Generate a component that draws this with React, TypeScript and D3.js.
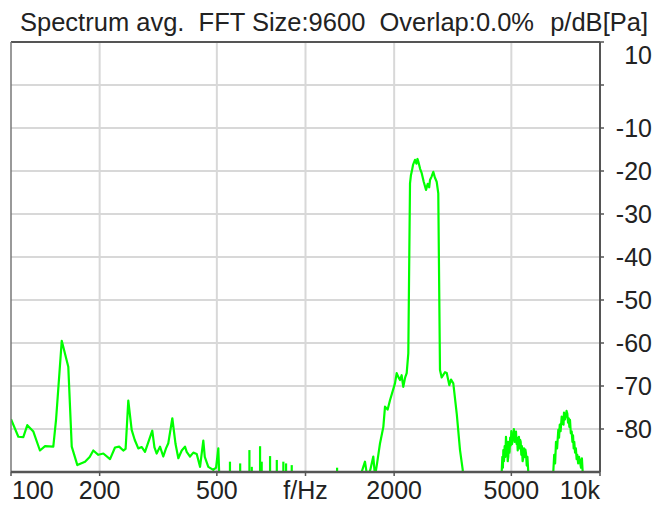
import React from 'react';
import * as d3 from 'd3';

// spectrum pieces (Hz, dB)
const lowFreq = [100, 105.9, 110.1, 113.6, 119.1, 125.4, 130.5, 139.2, 142.2, 148.7, 156.5, 160.8, 168, 178.4, 185, 190.3, 197.9, 205.8, 216.9, 225.5, 233, 240.6, 245, 250.2, 256.9, 263, 270.5, 278, 285.1, 301.8, 307, 312.4, 320.6, 328.9, 336, 342.1, 353, 362, 370, 380, 389.8, 395, 405.4, 416, 427.2, 438.4, 449.8, 455, 467.7, 486.3, 497, 505.8, 512];
const lowLevel = [-77.7, -81.8, -81.9, -79.1, -80.6, -85, -84, -84.1, -77.9, -59.5, -65.5, -84.1, -88.4, -87.6, -86.5, -85, -86, -85.7, -87, -84.3, -84.1, -85, -84.6, -73.4, -80.2, -82.5, -84.5, -84.2, -85.3, -80.4, -84.3, -85.7, -84.1, -86.4, -84.5, -83.3, -77.5, -83.5, -86.8, -85, -84.1, -85.3, -86.4, -85.5, -85.8, -88.8, -82.7, -86.5, -88.8, -89.5, -89, -84.5, -95];

const bandFreq = [1540, 1551, 1592, 1620, 1660, 1699, 1722, 1750, 1791, 1838, 1862, 1900, 1936, 2013, 2040, 2070, 2094, 2120, 2148, 2180, 2206, 2234, 2264, 2280, 2294, 2320, 2354, 2380, 2400, 2416, 2450, 2481, 2520, 2566, 2600, 2630, 2647, 2680, 2716, 2750, 2789, 2824, 2862, 2900, 2937, 2975, 3017, 3078, 3120, 3176, 3262, 3347, 3419, 3440];
const bandLevel = [-95, -90, -87.6, -91, -89.5, -86.4, -91, -88, -83.3, -79.5, -74.8, -75.5, -73.3, -69.4, -67, -68, -68.6, -67.5, -70.2, -68, -67, -62.4, -22.9, -21, -20.2, -18.5, -17.4, -18.3, -17.2, -17.8, -19.5, -20.5, -22.5, -24.4, -23, -23.8, -22.1, -21.3, -20.2, -21.5, -22.5, -25.2, -66.3, -68, -67.4, -66.8, -67, -69.8, -68.5, -69.4, -76.4, -84.9, -89.5, -95];

const hf1Freq = [4600, 4637, 4660, 4680, 4696, 4720, 4745, 4770, 4795, 4815, 4840, 4860, 4883, 4905, 4930, 4955, 4976, 5000, 5030, 5055, 5077, 5100, 5130, 5160, 5185, 5210, 5230, 5255, 5279, 5305, 5330, 5355, 5379, 5405, 5430, 5460, 5489, 5520, 5550, 5580, 5606, 5640, 5670, 5707, 5730];
const hf1Level = [-95, -90, -86.5, -89, -84.9, -87.5, -84, -86.5, -81.8, -85, -83, -87.5, -86.4, -83, -85.5, -82, -83.8, -80.5, -83.5, -81, -82.5, -80, -83, -81.5, -80.6, -83.5, -82, -85, -83.7, -81.8, -84.5, -82.5, -83, -86, -84, -87.5, -86.8, -84.5, -86.5, -84.8, -85.7, -88.5, -86.5, -90, -95];

const hf2Freq = [6900, 6940, 6990, 7040, 7089, 7150, 7218, 7260, 7300, 7350, 7412, 7450, 7480, 7520, 7547, 7600, 7650, 7700, 7745, 7790, 7830, 7870, 7909, 7960, 8015, 8060, 8100, 8140, 8178, 8230, 8280, 8330, 8373, 8430, 8490, 8552, 8620, 8680, 8734, 8760];
const hf2Level = [-95, -90, -86, -88, -83, -84.5, -80.2, -82, -79, -80.5, -77.1, -78.8, -77.5, -79, -76.2, -77.8, -77, -75.8, -76.4, -78.5, -77.5, -79.5, -77.9, -81, -80.6, -83, -81.5, -84.5, -83, -85.5, -84.5, -87, -86, -88, -86.5, -87.6, -89, -86.8, -90, -95];

// isolated lines poking up from the floor
const spikeFreq = [554, 600, 645, 657, 701, 710, 758, 799, 841, 859, 898, 1280];
const spikeLevel = [-87.6, -88, -84.9, -88.8, -84, -87.6, -86.3, -87.2, -87.6, -88, -88.4, -89];

const xTicks = [100, 200, 500, 1000, 2000, 5000, 10000];
const xLabels = ['100', '200', '500', 'f/Hz', '2000', '5000', '10k'];
const yTicks = [10, 0, -10, -20, -30, -40, -50, -60, -70, -80];
const yLabels = ['10', '', '-10', '-20', '-30', '-40', '-50', '-60', '-70', '-80'];

const W = 656;
const H = 507;
const left = 11, right = 600, top = 42, bottom = 472;
const font = '"Liberation Sans", Arial, sans-serif';

export default function App() {
  const x = d3.scaleLog().domain([100, 10000]).range([left, right]);
  const y = d3.scaleLinear().domain([-90, 10]).range([bottom, top]);

  const line = d3.line<[number, number]>()
    .x(d => x(d[0]))
    .y(d => y(d[1]));

  const segments = [
    d3.zip(lowFreq, lowLevel),
    d3.zip(bandFreq, bandLevel),
    d3.zip(hf1Freq, hf1Level),
    d3.zip(hf2Freq, hf2Level),
  ] as [number, number][][];

  return (
    <svg width={W} height={H} style={{ position: 'absolute', left: 0, top: 0, background: '#fff' }}
      fontFamily={font}>
      <defs>
        <clipPath id="plot">
          <rect x={left} y={top} width={right - left} height={bottom - top} />
        </clipPath>
      </defs>

      {/* grid */}
      {yTicks.filter(t => t < 10).map(t => (
        <line key={'gy' + t} x1={left} x2={right} y1={y(t)} y2={y(t)} stroke="#d8d8d8" strokeWidth={2} />
      ))}
      {xTicks.slice(1, -1).map(t => (
        <line key={'gx' + t} x1={x(t)} x2={x(t)} y1={top} y2={bottom} stroke="#d8d8d8" strokeWidth={2} />
      ))}

      {/* trace */}
      <g clipPath="url(#plot)" fill="none" stroke="#00ff00" strokeWidth={2.2} strokeLinejoin="round">
        {segments.map((s, i) => <path key={i} d={line(s) || ''} />)}
        {spikeFreq.map((f, i) => (
          <line key={'s' + i} x1={x(f)} x2={x(f)} y1={y(-92)} y2={y(spikeLevel[i])} />
        ))}
      </g>

      {/* frame */}
      <line x1={left} x2={right} y1={top} y2={top} stroke="#555" strokeWidth={2} />
      <line x1={left} x2={left} y1={top} y2={bottom} stroke="#777" strokeWidth={1.5} />
      <line x1={right} x2={right} y1={top} y2={bottom} stroke="#555" strokeWidth={2} />
      <line x1={left} x2={right} y1={bottom} y2={bottom} stroke="#555" strokeWidth={2.5} />

      {/* x axis */}
      {xTicks.map((t, i) => (
        <g key={'xt' + t}>
          <line x1={x(t)} x2={x(t)} y1={bottom} y2={bottom + 4} stroke="#555" strokeWidth={1.5} />
          <text x={x(t) + (i === 0 ? 1 : 0)} y={499} fontSize={25} fill="#222"
            textAnchor={i === 0 ? 'start' : i === xTicks.length - 1 ? 'end' : 'middle'}>
            {xLabels[i]}
          </text>
        </g>
      ))}

      {/* y axis on the right */}
      {yTicks.map((t, i) => (
        <g key={'yt' + t}>
          <line x1={right} x2={right + 4} y1={y(t)} y2={y(t)} stroke="#555" strokeWidth={1.5} />
          <text x={652} y={y(t) + (i === 0 ? 22 : 8.5)} fontSize={25} fill="#222" textAnchor="end">
            {yLabels[i]}
          </text>
        </g>
      ))}

      {/* title */}
      <text x={20} y={30.5} fontSize={25.5} fill="#222" style={{ whiteSpace: 'pre' }}>
        {'Spectrum avg.  FFT Size:9600  Overlap:0.0%'}
      </text>
      <text x={648} y={30.5} fontSize={25.5} fill="#222" textAnchor="end">p/dB[Pa]</text>
    </svg>
  );
}
